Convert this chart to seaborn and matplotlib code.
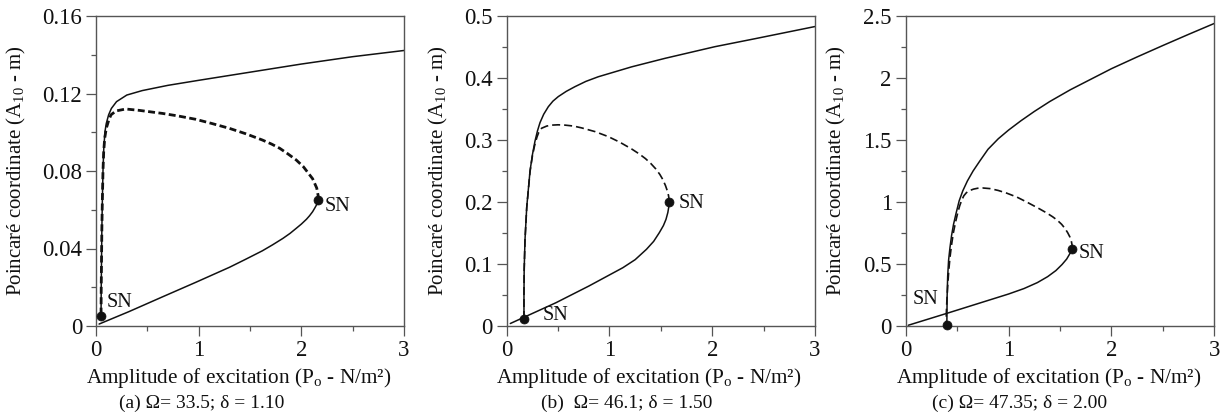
import matplotlib
matplotlib.use("Agg")
import matplotlib.pyplot as plt
import seaborn as sns
from matplotlib.ticker import MultipleLocator

# ---------------------------------------------------------------- data
x_ticks = [0, 1, 2, 3]
x_tick_labels = ["0", "1", "2", "3"]

# (a) Omega = 33.5, delta = 1.10
a_lower_x = [0.03, 0.32, 0.65, 0.97, 1.30, 1.46, 1.62, 1.72, 1.82, 1.89, 1.95, 2.0, 2.05,
             2.08, 2.11, 2.13, 2.15, 2.16, 2.165]
a_lower_y = [0.001, 0.0074, 0.0151, 0.0225, 0.0303, 0.0345, 0.0388, 0.0419, 0.0452, 0.0478,
             0.0504, 0.0526, 0.0551, 0.0569, 0.059, 0.0608, 0.0627, 0.0638, 0.065]
a_unst_x = [2.165, 2.163, 2.15, 2.11, 2.02, 1.95, 1.87, 1.79, 1.71, 1.62, 1.46, 1.30, 1.13,
            0.97, 0.80, 0.65, 0.42, 0.29, 0.195, 0.146, 0.123, 0.10, 0.085, 0.075, 0.068,
            0.062, 0.057, 0.054, 0.051, 0.049]
a_unst_y = [0.065, 0.0675, 0.0712, 0.076, 0.0822, 0.0857, 0.0888, 0.0917, 0.0939, 0.096,
            0.0992, 0.102, 0.1045, 0.1067, 0.1084, 0.1097, 0.1113, 0.112, 0.111, 0.109,
            0.106, 0.102, 0.097, 0.09, 0.08, 0.065, 0.05, 0.035, 0.02, 0.0052]
a_upper_x = [0.049, 0.051, 0.054, 0.057, 0.062, 0.068, 0.076, 0.088, 0.10, 0.123, 0.15, 0.2,
             0.3, 0.45, 0.7, 1.0, 1.5, 2.0, 2.5, 3.0]
a_upper_y = [0.0052, 0.02, 0.035, 0.05, 0.065, 0.08, 0.092, 0.1005, 0.1045, 0.109, 0.1123,
             0.1158, 0.1192, 0.1215, 0.1242, 0.1268, 0.131, 0.1352, 0.139, 0.1422]
a_sn_x = [0.049, 2.165]
a_sn_y = [0.0052, 0.065]
a_yticks = [0, 0.04, 0.08, 0.12, 0.16]
a_ytick_labels = ["0", "0.04", "0.08", "0.12", "0.16"]
a_caption = "(a) Ω= 33.5; δ = 1.10"

# (b) Omega = 46.1, delta = 1.50
b_lower_x = [0.035, 0.48, 0.80, 1.13, 1.25, 1.36, 1.43, 1.485, 1.525, 1.55, 1.568, 1.578, 1.58]
b_lower_y = [0.004, 0.0376, 0.0645, 0.094, 0.107, 0.1237, 0.1365, 0.1505, 0.162, 0.172,
             0.183, 0.193, 0.2]
b_unst_x = [1.58, 1.579, 1.575, 1.566, 1.545, 1.518, 1.49, 1.45, 1.40, 1.35, 1.29, 1.216,
            1.10, 0.988, 0.86, 0.73, 0.65, 0.567, 0.50, 0.438, 0.39, 0.34, 0.31, 0.295,
            0.283, 0.27, 0.25, 0.227, 0.195, 0.178, 0.170, 0.168, 0.168]
b_unst_y = [0.2, 0.205, 0.21, 0.2165, 0.2265, 0.2366, 0.2445, 0.2535, 0.2625, 0.27, 0.2775,
            0.2855, 0.2965, 0.3055, 0.3135, 0.3195, 0.3225, 0.324, 0.3245, 0.324, 0.3225,
            0.319, 0.3115, 0.305, 0.298, 0.29, 0.274, 0.249, 0.191, 0.138, 0.089, 0.05, 0.0108]
b_upper_x = [0.168, 0.168, 0.170, 0.178, 0.195, 0.227, 0.25, 0.275, 0.30, 0.324, 0.36, 0.405,
             0.45, 0.502, 0.58, 0.664, 0.77, 0.891, 1.216, 1.54, 2.026, 2.426, 3.0]
b_upper_y = [0.0108, 0.05, 0.09, 0.139, 0.192, 0.25, 0.276, 0.298, 0.315, 0.328, 0.3415,
             0.3537, 0.3627, 0.37, 0.3785, 0.386, 0.3945, 0.402, 0.418, 0.4317, 0.4505,
             0.4637, 0.483]
b_sn_x = [0.168, 1.58]
b_sn_y = [0.0108, 0.2]
b_yticks = [0, 0.1, 0.2, 0.3, 0.4, 0.5]
b_ytick_labels = ["0", "0.1", "0.2", "0.3", "0.4", "0.5"]
b_caption = "(b)  Ω= 46.1; δ = 1.50"

# (c) Omega = 47.35, delta = 2.00
c_lower_x = [0.025, 0.40, 0.70, 1.0, 1.15, 1.28, 1.38, 1.46, 1.52, 1.565, 1.592, 1.61, 1.62]
c_lower_y = [0.006, 0.102, 0.18, 0.258, 0.302, 0.35, 0.398, 0.447, 0.496, 0.54, 0.578,
             0.603, 0.62]
c_unst_x = [1.62, 1.618, 1.61, 1.595, 1.575, 1.55, 1.516, 1.475, 1.43, 1.37, 1.30, 1.176,
            1.08, 0.98, 0.90, 0.82, 0.75, 0.70, 0.66, 0.62, 0.59, 0.565, 0.545, 0.525,
            0.505, 0.485, 0.463, 0.445, 0.43, 0.418, 0.408, 0.40, 0.395, 0.393]
c_unst_y = [0.62, 0.65, 0.685, 0.72, 0.752, 0.785, 0.82, 0.852, 0.88, 0.912, 0.945, 1.0,
            1.04, 1.072, 1.093, 1.108, 1.113, 1.111, 1.104, 1.092, 1.075, 1.05, 1.015, 0.97,
            0.91, 0.84, 0.75, 0.65, 0.55, 0.44, 0.32, 0.2, 0.1, 0.01]
c_upper_x = [0.40, 0.401, 0.403, 0.408, 0.417, 0.43, 0.446, 0.465, 0.49, 0.52, 0.555, 0.6,
             0.655, 0.72, 0.8, 0.9, 1.0, 1.12, 1.25, 1.4, 1.6, 1.8, 2.0, 2.25, 2.5, 2.75, 3.0]
c_upper_y = [0.01, 0.1, 0.25, 0.4, 0.53, 0.63, 0.73, 0.82, 0.91, 1.01, 1.09, 1.17, 1.25,
             1.33, 1.425, 1.51, 1.58, 1.655, 1.73, 1.81, 1.905, 1.99, 2.075, 2.17, 2.262,
             2.352, 2.44]
c_sn_x = [0.40, 1.62]
c_sn_y = [0.01, 0.62]
c_yticks = [0, 0.5, 1, 1.5, 2, 2.5]
c_ytick_labels = ["0", "0.5", "1", "1.5", "2", "2.5"]
c_caption = "(c) Ω= 47.35; δ = 2.00"

# ---------------------------------------------------------------- style
sns.set_theme(style="ticks")
plt.rcParams["font.family"] = ["Liberation Serif", "DejaVu Serif"]
plt.rcParams["mathtext.fontset"] = "custom"
plt.rcParams["mathtext.rm"] = "Liberation Serif"
plt.rcParams["mathtext.it"] = "Liberation Serif:italic"

SPINE = "#555555"
INK = "#111111"

fig = plt.figure(figsize=(12.28, 4.18), dpi=100)

panels = [
    dict(left=96, width=308, ymax=0.16, yminor=0.02,
         lower=(a_lower_x, a_lower_y), unst=(a_unst_x, a_unst_y), upper=(a_upper_x, a_upper_y),
         sn=(a_sn_x, a_sn_y), yt=a_yticks, ytl=a_ytick_labels, cap=a_caption, capx=202,
         dash_lw=2.0, dash=(2.5, 1.25), ylab_x=-0.22,
         sn_text=[(0.10, 0.0121, "left"), (2.23, 0.0616, "left")]),
    dict(left=506.7, width=308.3, ymax=0.5, yminor=0.05,
         lower=(b_lower_x, b_lower_y), unst=(b_unst_x, b_unst_y), upper=(b_upper_x, b_upper_y),
         sn=(b_sn_x, b_sn_y), yt=b_yticks, ytl=b_ytick_labels, cap=b_caption, capx=627,
         dash_lw=1.2, dash=(4.8, 2.4), ylab_x=-0.184,
         sn_text=[(0.35, 0.0177, "left"), (1.67, 0.198, "left")]),
    dict(left=905.7, width=308.6, ymax=2.5, yminor=0.25,
         lower=(c_lower_x, c_lower_y), unst=(c_unst_x, c_unst_y), upper=(c_upper_x, c_upper_y),
         sn=(c_sn_x, c_sn_y), yt=c_yticks, ytl=c_ytick_labels, cap=c_caption, capx=1020,
         dash_lw=1.2, dash=(4.8, 2.4), ylab_x=-0.187,
         sn_text=[(0.315, 0.21, "right"), (1.684, 0.585, "left")]),
]

W, H = 1228.0, 418.0
for p in panels:
    ax = fig.add_axes([p["left"] / W, (H - 326) / H, p["width"] / W, 310 / H])

    sns.lineplot(x=p["lower"][0], y=p["lower"][1], sort=False, estimator=None,
                 color=INK, lw=1.1, ax=ax)
    sns.lineplot(x=p["upper"][0], y=p["upper"][1], sort=False, estimator=None,
                 color=INK, lw=1.1, ax=ax)
    sns.lineplot(x=p["unst"][0], y=p["unst"][1], sort=False, estimator=None,
                 color=INK, lw=p["dash_lw"], linestyle=(0, p["dash"]), ax=ax)
    sns.scatterplot(x=p["sn"][0], y=p["sn"][1], s=42, color=INK, edgecolor=INK,
                    linewidth=0.5, zorder=5, clip_on=False, ax=ax)

    for tx, ty, ha in p["sn_text"]:
        ax.text(tx, ty, "SN", ha=ha, va="center", fontsize=14.5, color=INK)

    ax.set_xlim(0, 3)
    ax.set_ylim(0, p["ymax"])
    ax.set_xticks(x_ticks)
    ax.set_xticklabels(x_tick_labels)
    ax.set_yticks(p["yt"])
    ax.set_yticklabels(p["ytl"])
    ax.xaxis.set_minor_locator(MultipleLocator(0.5))
    ax.yaxis.set_minor_locator(MultipleLocator(p["yminor"]))
    ax.tick_params(which="major", direction="out", length=7, width=0.9, color=SPINE,
                   labelsize=16.5, pad=3, labelcolor=INK)
    ax.tick_params(which="minor", direction="out", length=3.5, width=0.9, color=SPINE)
    for s in ax.spines.values():
        s.set_visible(True)
        s.set_color(SPINE)
        s.set_linewidth(1.0)

    ax.set_xlabel("Amplitude of excitation (P$_{\\mathrm{o}}$ - N/m²)", fontsize=15.3, color=INK)
    ax.set_ylabel("Poincaré coordinate (A$_{\\mathrm{10}}$ - m)", fontsize=15, color=INK)
    ax.xaxis.set_label_coords(0.462, -0.13)
    ax.yaxis.set_label_coords(p["ylab_x"], 0.5)

    fig.text(p["capx"] / W, 15 / H, p["cap"], ha="center", va="center",
             fontsize=14, color=INK)

fig.savefig("out.png", dpi=100, facecolor="white")
